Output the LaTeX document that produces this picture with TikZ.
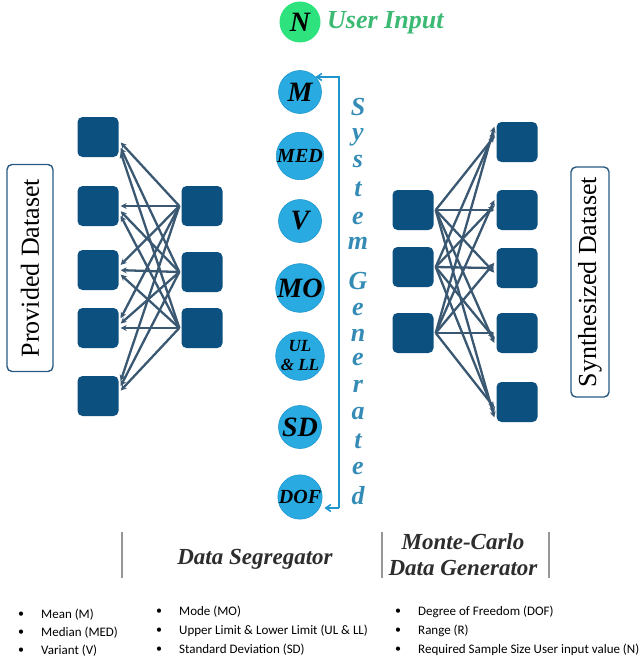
\documentclass[tikz,border=0pt]{standalone}
\usepackage{fontspec}
\setmainfont{Liberation Serif}
\newfontfamily\calfont{Carlito}
\usetikzlibrary{arrows.meta}
\definecolor{sqblue}{RGB}{12,80,128}
\definecolor{netc}{RGB}{58,88,114}
\definecolor{cyanc}{RGB}{41,171,226}
\definecolor{cyand}{RGB}{30,150,205}
\definecolor{greenc}{RGB}{46,226,126}
\definecolor{greent}{RGB}{60,185,115}
\definecolor{sysc}{RGB}{52,140,182}
\definecolor{barc}{RGB}{150,150,150}
\definecolor{labc}{RGB}{45,45,45}
\definecolor{boxc}{RGB}{40,90,130}
\tikzset{
  sq/.style={rectangle,rounded corners=5pt,fill=sqblue,minimum width=41pt,minimum height=40pt,inner sep=0pt},
  bc/.style={circle,fill=cyanc,draw=cyand,line width=0.6pt,minimum size=43pt,inner sep=0pt,font=\bfseries\itshape\fontsize{28}{28}\selectfont},
  netl/.style={draw=netc,line width=2.3pt,-{Stealth[length=6pt,width=6pt]}},
  dsbox/.style={draw=boxc,line width=1.4pt,rounded corners=5pt,inner sep=0pt,font=\fontsize{26}{26}\selectfont},
  syl/.style={text=sysc,font=\bfseries\itshape\fontsize{26}{26}\selectfont,inner sep=0pt},
  bar/.style={draw=barc,line width=2pt},
  lab/.style={text=labc,font=\bfseries\itshape\fontsize{23}{26}\selectfont,align=center,inner sep=0pt},
  bul/.style={anchor=west,inner sep=0pt,font=\calfont\fontsize{13}{14}\selectfont},
  dot/.style={anchor=center,inner sep=0pt,font=\calfont\fontsize{12}{12}\selectfont},
  sarr/.style={draw=cyand,line width=1.6pt}
}
\begin{document}
\begin{tikzpicture}[x=1pt,y=-1pt]
\useasboundingbox (0,0) rectangle (640,661);
% user input
\node[circle,fill=greenc,minimum size=41pt,inner sep=0pt,font=\bfseries\itshape\fontsize{28}{28}\selectfont] (N) at (300,22) {N};
\node[anchor=west,inner sep=0pt,text=greent,font=\bfseries\itshape\fontsize{26}{26}\selectfont] (UI) at (327,23) {User Input};
% circles
\node[bc] (cM) at (300,92) {M};
\node[bc,font=\bfseries\itshape\fontsize{20}{20}\selectfont] (cMED) at (300,156) {MED};
\node[bc] (cV) at (300,221) {V};
\node[bc] (cMO) at (300,288) {MO};
\node[bc,align=center,font=\bfseries\itshape\fontsize{17}{19}\selectfont] (cUL) at (300,356) {UL\\\& LL};
\node[bc] (cSD) at (300,427) {SD};
\node[bc,font=\bfseries\itshape\fontsize{20}{20}\selectfont] (cDOF) at (300,497) {DOF};
% system generated arrow
\coordinate (ta) at (339,77);
\coordinate (ba) at (339,508);
\draw[sarr,-{Straight Barb[length=5pt,width=7pt]}] (ba) -- (ta) -- (cM.north east|-ta);
\draw[sarr,-{Straight Barb[length=5pt,width=7pt]}] (ba) -- ([xshift=2pt]cDOF.east|-ba);
% letters
\foreach \ch/\yy [count=\k] in {S/107,y/137,s/162,t/189,e/218,m/243,G/281,e/309,n/335,e/359,r/386,a/414,t/441,e/468,d/496}
  \node[syl] (sg\k) at (358,\yy) {\ch};
% left network
\foreach \i/\yy in {1/137,2/206,3/270,4/328,5/396}
  \node[sq] (PL\i) at (98,\yy) {};
\foreach \j/\yy in {1/206,2/272,3/328}
  \node[sq] (PR\j) at (202,\yy) {};
\foreach \i/\yi in {1/137,2/206,3/270,4/328,5/396}
  \foreach \j/\yj in {1/206,2/272,3/328}
    \draw[netl] ([xshift=-2pt]PR\j.west) -- ([xshift=2pt,yshift={-0.08*(\yj-\yi)}]PL\i.east);
\node[dsbox,minimum width=46pt,minimum height=207pt] (PD) at (30,268) {};
\node[rotate=90,inner sep=0pt,font=\fontsize{26}{26}\selectfont] (PDt) at (PD.center) {Provided Dataset};
% right network
\foreach \i/\yy in {1/210,2/267,3/333}
  \node[sq] (SL\i) at (413,\yy) {};
\foreach \j/\yy in {1/142,2/210,3/268,4/333,5/402}
  \node[sq] (SR\j) at (517,\yy) {};
\foreach \i/\yi in {1/210,2/267,3/333}
  \foreach \j/\yj in {1/142,2/210,3/268,4/333,5/402}
    \draw[netl] ([xshift=2pt]SL\i.east) -- ([xshift=-2pt,yshift={-0.08*(\yj-\yi)}]SR\j.west);
\node[dsbox,minimum width=38pt,minimum height=230pt] (SD) at (590,282) {};
\node[rotate=90,inner sep=0pt,font=\fontsize{26}{26}\selectfont] (SDt) at (SD.center) {Synthesized Dataset};
% bottom labels
\coordinate (b1t) at (122,532); \coordinate (b1b) at (122,578);
\coordinate (b2t) at (382,532); \coordinate (b2b) at (382,578);
\coordinate (b3t) at (549,532); \coordinate (b3b) at (549,578);
\draw[bar] (b1t) -- (b1b);
\draw[bar] (b2t) -- (b2b);
\draw[bar] (b3t) -- (b3b);
\node[lab] (DS) at (255,559) {Data Segregator};
\node[lab] (MC) at (463,555) {Monte-Carlo\\Data Generator};
% bullets
\foreach \x/\y/\t [count=\k] in {
  41/615/{Mean (M)},41/633/{Median (MED)},41/651/{Variant (V)},
  179/612/{Mode (MO)},179/631/{Upper Limit \& Lower Limit (UL \& LL)},179/650/{Standard Deviation (SD)},
  418/612/{Degree of Freedom (DOF)},418/631/{Range (R)},418/650/{Required Sample Size User input value (N)}}
{
  \node[bul] (bt\k) at (\x,\y) {\t};
  \node[dot] (bd\k) at ([xshift=-20pt]bt\k.west) {\textbullet};
}
\end{tikzpicture}
\end{document}
